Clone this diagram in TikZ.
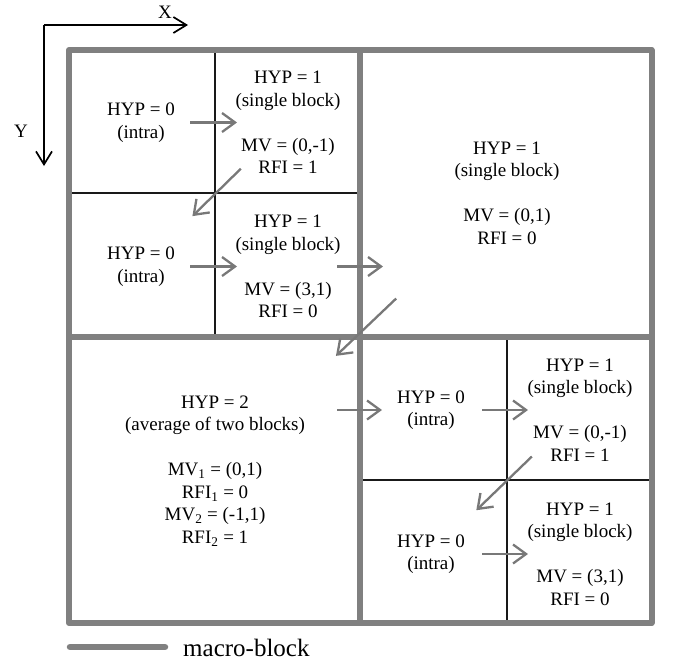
\documentclass[tikz,border=0pt]{standalone}
\usepackage{fontspec}
\setmainfont{Liberation Serif}
\usetikzlibrary{arrows.meta, positioning, calc}
\definecolor{MBgray}{RGB}{128,128,128}
\definecolor{ArrGray}{RGB}{120,120,120}

\begin{document}
\begin{tikzpicture}[x=1pt, y=-1pt, font=\fontsize{19}{22.5}\selectfont,
  mb/.style={draw=MBgray, line width=6pt, line join=round},
  sb/.style={draw=black!90, line width=1.4pt},
  lbl/.style={align=center, inner sep=0pt},
  fl/.style={-{Straight Barb[length=13pt, width=19pt]}, ArrGray, line width=2.3pt},
  ax/.style={-{Straight Barb[length=13pt, width=16pt]}, line width=1.7pt}]
\useasboundingbox (0,0) rectangle (673,662);
% axes
\coordinate (o) at (44,25);
\coordinate (xe) at (188,25);
\coordinate (ye) at (44,166);
\draw[ax] (o) -- (xe);
\draw[ax] (o) -- (ye);
\node (xl) at (165,12) {X};
\node (yl) at (21,131) {Y};
% sub-blocks
\draw[sb] (215,50) -- (215,337);
\draw[sb] (69,193) -- (360,193);
\draw[sb] (507,337) -- (507,623);
\draw[sb] (360,480) -- (651.5,480);
% macro-blocks
\draw[mb] (69,50) rectangle (651.5,623);
\draw[mb] (360,50) -- (360,623);
\draw[mb] (69,337) -- (651.5,337);
% labels
\node[lbl] (a) at (141,122.5) {HYP = 0\\(intra)};
\node[lbl] (b) at (288,122.5) {HYP = 1\\(single block)\\[22.5pt]MV = (0,-1)\\RFI = 1};
\node[lbl] (c) at (141,266.5) {HYP = 0\\(intra)};
\node[lbl] (d) at (288,266.5) {HYP = 1\\(single block)\\[22.5pt]MV = (3,1)\\RFI = 0};
\node[lbl] (e) at (507,193) {HYP = 1\\(single block)\\[22.5pt]MV = (0,1)\\RFI = 0};
\node[lbl] (f) at (215,471) {HYP = 2\\(average of two blocks)\\[22.5pt]MV\textsubscript{1} = (0,1)\\RFI\textsubscript{1} = 0\\MV\textsubscript{2} = (-1,1)\\RFI\textsubscript{2} = 1};
\node[lbl] (g) at (431,410) {HYP = 0\\(intra)};
\node[lbl] (h) at (580,410) {HYP = 1\\(single block)\\[22.5pt]MV = (0,-1)\\RFI = 1};
\node[lbl] (i) at (431,554) {HYP = 0\\(intra)};
\node[lbl] (j) at (580,554) {HYP = 1\\(single block)\\[22.5pt]MV = (3,1)\\RFI = 0};
% prediction order
\draw[fl, shorten <=49pt, shorten >=51pt] (a.center) -- (b.center);
\draw[fl, shorten <=66pt, shorten >=72pt] (b.center) -- (c.center);
\draw[fl, shorten <=49pt, shorten >=51pt] (c.center) -- (d.center);
\draw[fl, shorten <=49pt, shorten >=124pt] (d.center) -- (d.center -| e.center);
\draw[fl, shorten <=153pt, shorten >=167pt] (e.center) -- (f.center);
\draw[fl, shorten <=122pt, shorten >=49pt] (f.center |- g.center) -- (g.center);
\draw[fl, shorten <=51pt, shorten >=52pt] (g.center) -- (h.center);
\draw[fl, shorten <=67pt, shorten >=63pt] (h.center) -- (i.center);
\draw[fl, shorten <=51pt, shorten >=52pt] (i.center) -- (j.center);
% legend
\coordinate (lg) at (70,647);
\draw[mb, line width=6.5pt, line cap=round] (lg) -- ++(95,0);
\node[anchor=base west, inner sep=0pt, font=\fontsize{25}{29}\selectfont] (lgt) at (183,656) {macro-block};
\end{tikzpicture}
\end{document}
